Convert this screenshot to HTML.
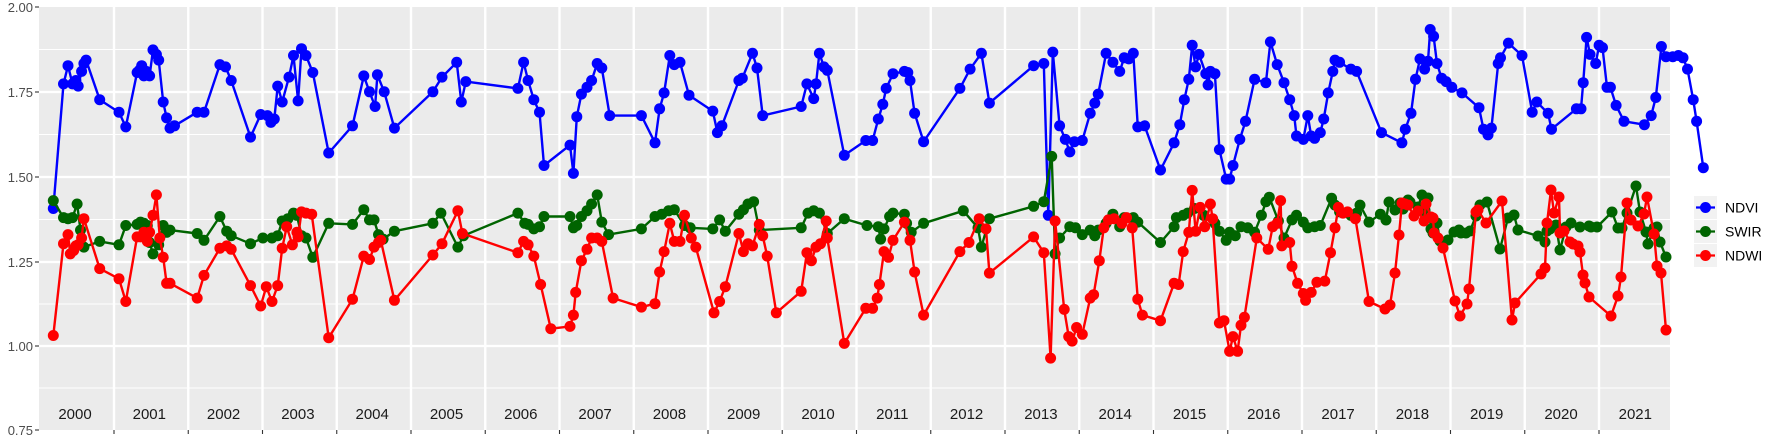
<!DOCTYPE html>
<html><head><meta charset="utf-8"><style>
html,body{margin:0;padding:0;background:#fff;}
svg{display:block;font-family:"Liberation Sans",sans-serif;}
</style></head><body>
<svg id="s" width="1773" height="442" xmlns="http://www.w3.org/2000/svg">
<rect x="39" y="7" width="1631" height="423" fill="#ebebeb"/>
<g id="grid"></g>
<g id="axes" fill="#4d4d4d" font-size="13" text-anchor="end">
<text x="33" y="12">2.00</text><text x="33" y="97">1.75</text><text x="33" y="182">1.50</text>
<text x="33" y="267">1.25</text><text x="33" y="351">1.00</text><text x="33" y="435">0.75</text>
</g>
<g id="data"></g>
<g id="legend" font-size="14" fill="#000">
<rect x="1694" y="196" width="23" height="23" fill="#f2f2f2"/>
<rect x="1694" y="220" width="23" height="23" fill="#f2f2f2"/>
<rect x="1694" y="244" width="23" height="23" fill="#f2f2f2"/>
<line x1="1696" x2="1715" y1="207.5" y2="207.5" stroke="#0000ff" stroke-width="2.3"/><circle cx="1705.5" cy="207.5" r="5.5" fill="#0000ff"/>
<line x1="1696" x2="1715" y1="231.5" y2="231.5" stroke="#006400" stroke-width="2.3"/><circle cx="1705.5" cy="231.5" r="5.5" fill="#006400"/>
<line x1="1696" x2="1715" y1="255.5" y2="255.5" stroke="#ff0000" stroke-width="2.3"/><circle cx="1705.5" cy="255.5" r="5.5" fill="#ff0000"/>
<text x="1725" y="212.5">NDVI</text><text x="1725" y="236.5">SWIR</text><text x="1725" y="260.5">NDWI</text>
</g>
</svg>
<script>
var NS="http://www.w3.org/2000/svg";
function el(p,n,a){var e=document.createElementNS(NS,n);for(var k in a)e.setAttribute(k,a[k]);p.appendChild(e);return e;}
var g=document.getElementById("grid");
[49.5,134.5,219.5,304,388].forEach(function(y){el(g,"line",{x1:39,x2:1670,y1:y,y2:y,stroke:"#fff","stroke-width":1});});
[92,177,262,346].forEach(function(y){el(g,"line",{x1:39,x2:1670,y1:y,y2:y,stroke:"#fff","stroke-width":2.2});});
var ax=document.getElementById("axes");
[7,92,177,262,346,430].forEach(function(y){el(ax,"line",{x1:35,x2:39,y1:y,y2:y,stroke:"#333","stroke-width":1.1});});
for(var k=0;k<=20;k++){var x=114+74.25*k;el(g,"line",{x1:x,x2:x,y1:7,y2:430,stroke:"#fff","stroke-width":2.4});el(ax,"line",{x1:x,x2:x,y1:430,y2:434,stroke:"#333","stroke-width":1.1});}
for(var k=0;k<22;k++){var t=el(g,"text",{x:75+74.3*k,y:419,"font-size":15,fill:"#1a1a1a","text-anchor":"middle"});t.textContent=2000+k;}
var S=1.1333;
function P(a){var r=[];for(var i=0;i<a.length;i+=2)r.push([a[i]*S,a[i+1]*S]);return r;}
function A(a){var r=[];for(var i=0;i<a.length;i+=2)r.push([a[i],a[i+1]]);return r;}
var blue=P([47,184,56,74,60,58,64,74,67,71,69,76,72,63,74,56,76,53,88,88,105,99,111,112,121,64,123,62,125,58,127,67,129,63,132,67,135,44,138,48,140,53,144,90,147,104,150,113,154,111,174,99,180,99,194,57,199,59,204,71,221,121,230,101,236,102,239,108,242,105,245,76,249,90,255,68,259,49,263,89,266,43,270,49,276,64,290,135,311,111,321,67,326,81,331,94,333,66,339,81,348,113,382,81,390,68,403,55,407,90,411,72,457,78,462,55,466,71,471,88,476,99,480,146,503,128,506,153,509,103,513,83,518,77,522,71,527,56,531,60,538,102,566,102,578,126,582,96,586,82,591,49,595,57,600,55,608,84,629,98,633,117,637,111,652,71,655,69,664,47,668,60,673,102,707,94,712,74,718,87,720,74,723,47,727,59,730,62,745,137,764,124,770,124,775,105,779,92,782,78,788,65,798,63,801,64,803,71,807,100,815,125,847,78,856,61,866,47,873,91,912,58,921,56,925,190,929,46,935,111,940,123,944,134,948,125,955,124,962,100,966,91,969,83,976,47,982,55,988,63,992,51,996,52,1000,47,1004,112,1010,111,1024,150,1036,126,1041,110,1045,88,1049,70,1052,40,1055,59,1058,48,1064,65,1066,75,1068,63,1072,65,1076,132,1082,158,1085,158,1088,146,1094,123,1099,107,1107,70,1117,73,1121,37,1127,57,1133,73,1138,88,1142,102,1144,120,1150,123,1154,102,1157,120,1160,122,1165,117,1168,105,1172,82,1176,63,1178,53,1182,55,1192,61,1197,63,1219,117,1237,126,1240,114,1245,100,1249,70,1253,52,1257,61,1260,54,1262,26,1265,32,1268,56,1272,69,1276,72,1281,77,1290,82,1305,95,1309,114,1313,119,1316,113,1322,56,1324,51,1331,38,1343,49,1352,99,1356,90,1366,100,1369,114,1391,96,1395,96,1397,73,1400,33,1403,48,1408,56,1411,40,1414,42,1418,77,1421,77,1426,93,1433,107,1451,110,1457,102,1461,86,1466,41,1470,50,1476,50,1481,49,1485,51,1489,61,1494,88,1497,107,1503,148]);
var green=P([47,177,56,192,60,193,64,192,68,180,71,203,74,218,88,213,105,216,111,199,121,198,124,196,127,197,130,199,132,214,135,224,140,216,144,199,147,205,150,203,174,206,180,212,194,191,200,204,204,208,221,215,232,210,240,210,245,208,249,195,254,193,259,188,262,190,266,208,270,210,276,227,290,197,311,198,321,185,326,194,330,194,334,207,338,211,348,204,382,197,389,188,404,218,409,208,457,188,463,197,466,198,471,202,476,200,480,191,503,191,506,201,509,199,513,191,518,186,522,180,527,172,531,196,537,207,566,202,578,191,584,189,590,186,595,185,604,199,609,201,629,202,635,194,640,204,652,189,656,185,660,180,665,178,670,203,707,201,713,188,718,186,723,188,730,206,745,193,765,199,775,200,777,211,780,202,785,191,788,188,798,189,800,197,804,205,815,197,850,186,863,201,866,218,873,193,912,182,921,178,928,138,931,224,935,210,944,200,949,201,955,207,962,203,966,208,969,203,976,197,982,189,988,200,992,192,1000,192,1004,196,1024,214,1036,200,1038,192,1044,190,1048,188,1054,184,1062,190,1072,197,1076,204,1082,212,1085,205,1090,208,1095,200,1101,201,1107,205,1113,190,1117,178,1120,174,1128,195,1133,210,1140,194,1144,190,1150,196,1154,201,1160,200,1165,199,1175,175,1178,181,1182,187,1192,190,1197,188,1200,181,1208,196,1218,189]).concat(A([1386,220,1389,202,1395,210,1400,203,1403,209,1408,200,1410,202,1418,207,1422,195,1425,211,1428,198,1431,229,1433,233,1437,223,1440,241,1448,240,1454,232,1459,230,1461,233,1466,233,1470,231,1476,216,1480,205,1487,202,1500,249,1508,218,1514,215,1518,230,1538,236,1545,242,1547,231,1550,229,1556,225,1560,250,1566,227,1571,223,1580,227,1589,226,1591,227,1597,227,1612,212,1618,228,1622,228,1627,213,1636,186,1640,212,1646,232,1648,244,1654,228,1657,227,1660,242,1666,257]));
var red=P([47,296,56,215,60,207,62,224,65,221,67,217,69,216,72,210,74,193,88,237,105,246,111,266,121,209,124,209,127,205,130,213,132,205,135,190,138,172,141,210,144,227,147,250,150,250,174,263,180,243,194,219,200,217,204,220,221,252,230,270,235,253,240,266,245,252,249,219,253,200,258,216,262,205,263,209,266,187,270,188,275,189,290,298,311,264,321,226,326,229,330,218,334,214,336,212,348,265,382,225,390,215,404,186,408,206,457,223,462,213,466,216,471,226,477,251,486,290,503,288,506,278,508,258,513,230,518,220,522,210,527,210,531,213,541,263,566,271,578,268,582,240,586,222,591,197,595,213,600,213,604,190,610,210,614,218,630,276,635,266,640,253,652,206,656,222,660,215,664,217,670,198,673,208,677,226,685,276,707,257,712,223,716,230,720,218,724,215,729,195,730,210,745,303,764,272,770,272,774,263,776,251,780,222,784,227,788,212,798,196,803,212,807,240,815,278,847,222,855,214,864,193,870,202,873,241,912,209,921,223,927,316,931,195,939,273,943,297,946,301,950,289,955,295,962,263,965,260,970,230,974,201,978,194,983,193,990,197,994,192,999,201,1004,264,1008,278,1024,283,1036,250,1040,251,1044,222,1049,205,1052,168,1055,204,1059,183,1063,200,1068,180,1070,193,1076,285,1080,283,1085,310,1088,297,1092,310,1095,287,1098,280,1109,210,1119,220,1123,200,1127,197,1130,177,1131,217,1138,214,1140,235,1145,250,1150,259,1152,265,1157,258,1162,249,1169,248,1174,223,1178,201,1181,183,1185,188,1189,187,1196,193,1208,266]).concat(A([1385,309,1390,305,1395,273,1399,235,1402,203,1405,204,1408,205,1414,216,1418,211,1424,221,1426,204,1431,217,1433,218,1434,233,1438,238,1443,248,1455,301,1460,316,1467,304,1469,289,1476,212,1478,210,1486,223,1502,201,1512,320,1515,303,1541,274,1545,268,1547,223,1551,190,1554,213,1559,197,1560,233,1564,231,1570,242,1573,244,1578,246,1580,252,1583,275,1585,283,1589,297,1611,316,1618,296,1621,277,1627,203,1631,220,1638,226,1644,214,1647,197,1654,234,1657,266,1661,273,1666,330]));
var d=document.getElementById("data");
[[blue,"#0000ff"],[green,"#006400"],[red,"#ff0000"]].forEach(function(s){
 var pts=s[0].map(function(p){return p[0].toFixed(1)+","+p[1].toFixed(1);}).join(" ");
 el(d,"polyline",{points:pts,fill:"none",stroke:s[1],"stroke-width":2.4,"stroke-linejoin":"round"});
 s[0].forEach(function(p){el(d,"circle",{cx:p[0].toFixed(1),cy:p[1].toFixed(1),r:5.5,fill:s[1]});});
});
</script>
</body></html>
